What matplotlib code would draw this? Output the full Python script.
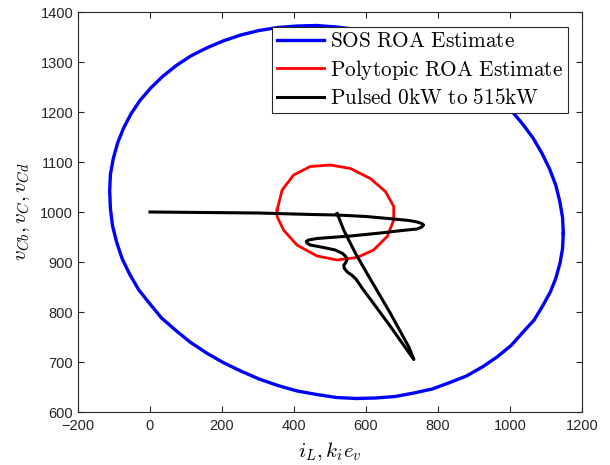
import matplotlib
matplotlib.use("Agg")
import matplotlib.pyplot as plt

plt.rcParams["mathtext.fontset"] = "cm"
plt.rcParams["font.family"] = ["Liberation Sans", "DejaVu Sans"]

# SOS ROA estimate (blue), points read around the curve
sos_x = [1148, 1146, 1138, 1127, 1110, 1089, 1064, 1034, 1001, 964,
         923, 879, 833, 784, 733, 681, 627, 573, 518, 463,
         409, 355, 303, 252, 203, 157, 113, 73, 35, 2,
         -28, -53, -74, -90, -102, -110, -112, -110, -104, -92,
         -77, -56, -31, 0, 32, 72, 111, 157, 203, 252,
         303, 355, 409, 463, 518, 573, 627, 681, 733, 784,
         833, 879, 923, 964, 1003, 1034, 1067, 1089, 1112, 1127,
         1139, 1146, 1148]
sos_y = [957, 989, 1022, 1054, 1086, 1117, 1148, 1177, 1205, 1231,
         1256, 1279, 1299, 1318, 1333, 1347, 1357, 1365, 1370, 1373,
         1372, 1369, 1363, 1354, 1342, 1328, 1312, 1293, 1271, 1248,
         1223, 1196, 1167, 1138, 1107, 1075, 1043, 1007, 972, 938,
         906, 875, 844, 816, 788, 763, 740, 718, 699, 682,
         666, 653, 642, 635, 629, 627, 628, 631, 638, 646,
         659, 672, 690, 710, 733, 758, 784, 810, 840, 867,
         898, 927, 957]

# Polytopic ROA estimate (red)
poly_x = [353, 367, 399, 445, 501, 557, 612, 654, 677, 677, 659, 621, 575,
          520, 464, 408, 371, 353, 353]
poly_y = [1004, 1044, 1074, 1091, 1094, 1087, 1067, 1041, 1011, 984, 951,
          924, 909, 904, 912, 934, 964, 991, 1004]

# Pulsed load trajectory (black)
traj_x = [0, 150, 300, 450, 520, 600, 677, 720, 742, 755, 760, 755, 742,
          700, 640, 557, 500, 464, 440, 434, 436, 445, 482, 515, 535, 545,
          547, 543, 538, 540, 548, 560, 572, 590, 621, 668, 714, 728, 733,
          719, 668, 603, 571, 538, 520]
traj_y = [1000, 999, 998, 995, 994, 991, 986, 983, 980, 977, 974, 970, 966,
          963, 958, 952, 949, 947, 944, 941, 938, 934, 929, 924, 917, 910,
          904, 898, 893, 887, 880, 874, 866, 847, 817, 771, 724, 710, 705,
          730, 797, 877, 917, 964, 997]

labels = [r"$\mathrm{SOS\ ROA\ Estimate}$",
          r"$\mathrm{Polytopic\ ROA\ Estimate}$",
          r"$\mathrm{Pulsed\ 0kW\ to\ 515kW}$"]

fig = plt.figure(figsize=(6.1, 4.65), dpi=100)
ax = fig.add_axes([78 / 610, 53 / 465, 504 / 610, 400 / 465])

ax.plot(sos_x, sos_y, color="blue", linewidth=2.4, label=labels[0],
        solid_joinstyle="round")
ax.plot(poly_x, poly_y, color="red", linewidth=2.0, label=labels[1],
        solid_joinstyle="round")
ax.plot(traj_x, traj_y, color="black", linewidth=2.2, label=labels[2],
        solid_joinstyle="round")

ax.set_xlim(-200, 1200)
ax.set_ylim(600, 1400)
ax.set_xticks(range(-200, 1201, 200))
ax.set_yticks(range(600, 1401, 100))

dark = "#262626"
for sp in ax.spines.values():
    sp.set_color(dark)
    sp.set_linewidth(0.8)
ax.tick_params(direction="in", top=True, right=True, length=4, width=0.8,
               color=dark, labelcolor=dark, labelsize=10.5)
ax.tick_params(axis="x", pad=5)

ax.set_xlabel(r"$i_L, k_i e_v$", fontsize=15, labelpad=5)
ax.set_ylabel(r"$v_{Cb}, v_C, v_{Cd}$", fontsize=15, labelpad=6)

leg = ax.legend(loc="upper right", bbox_to_anchor=(0.972, 0.9625),
                borderaxespad=0, fontsize=15.3, fancybox=False, framealpha=1,
                edgecolor=dark, handlelength=2.2, handletextpad=0.25,
                labelspacing=0.3, borderpad=0.25)
leg.get_frame().set_linewidth(0.8)

fig.savefig("out.png", dpi=100)
